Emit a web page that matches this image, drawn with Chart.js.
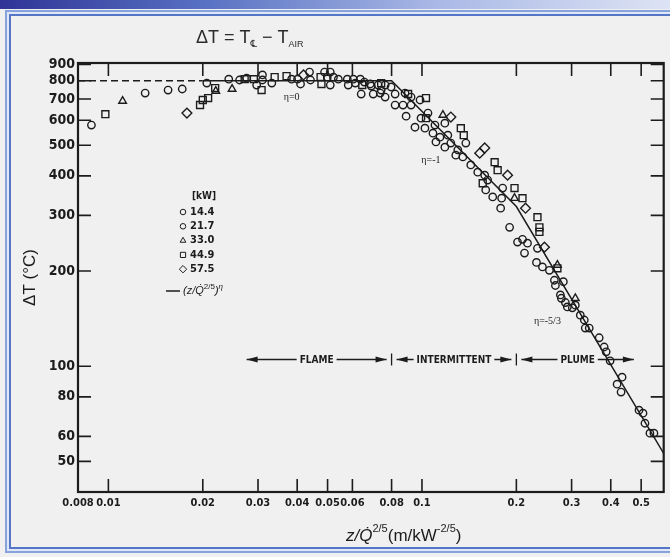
<!DOCTYPE html>
<html>
<head>
<meta charset="utf-8">
<script src="https://cdn.jsdelivr.net/npm/chart.js@4.4.1/dist/chart.umd.min.js"></script>
<style>
  html, body { margin: 0; padding: 0; background: #f0f0f0; }
  #wrap { position: relative; width: 670px; height: 557px; overflow: hidden; background: #f0f0f0; }
  .topbar { position: absolute; left: 0; top: 0; width: 670px; height: 9px;
    background: linear-gradient(to right, #2f3496 0%, #5770c2 30%, #a9b8e6 65%, #dde3f4 100%); }
  .frame { position: absolute; left: 5px; top: 10px; width: 690px; height: 539px;
    border: 2px solid #86a3de; box-shadow: inset 0 0 0 2px #dfe7f7, inset 0 0 0 4px #5576c6; }
  canvas { position: absolute; left: 0; top: 0; }
</style>
</head>
<body>
<div id="wrap">
  <div class="topbar"></div>
  <div class="frame"></div>
  <canvas id="plot" width="670" height="557"></canvas>
</div>
<script>
// ---------- data ----------
const xTickVals = [0.008, 0.01, 0.02, 0.03, 0.04, 0.05, 0.06, 0.08, 0.1, 0.2, 0.3, 0.4, 0.5];
const xTickText = ['0.008', '0.01', '0.02', '0.03', '0.04', '0.05', '0.06', '0.08', '0.1', '0.2', '0.3', '0.4', '0.5'];
const yTickVals = [50, 60, 80, 100, 200, 300, 400, 500, 600, 700, 800, 900];
const seriesNames = ['14.4', '21.7', '33.0', '44.9', '57.5'];

const q144 = [[0.00883,579],[0.0155,747],[0.0206,786],[0.0262,804],[0.0297,775],[0.0310,804],[0.0384,809],[0.0410,781],
  [0.0441,804],[0.0510,852],[0.0522,821],[0.0541,809],[0.0582,775],[0.0613,786],[0.0655,792],[0.0640,726],[0.0699,726],
  [0.0736,731],[0.0763,710],[0.0821,726],[0.0741,747],[0.0883,731],[0.0923,670],[0.0890,618],[0.1045,632],[0.1022,566],
  [0.1183,587],[0.1141,530],[0.1108,512],[0.1236,508],[0.1301,483],[0.1350,459],[0.1506,411],[0.1597,361],[0.1681,343],
  [0.1795,340],[0.1903,275],[0.2092,252],[0.2123,228],[0.2318,213],[0.2549,201],[0.2824,185],[0.2763,168],[0.2866,159],
  [0.3083,156],[0.3198,145],[0.3317,132],[0.3674,123],[0.3867,111],[0.4346,92.3],[0.4314,82.8],[0.5068,71.0],[0.5333,61.4]];
const q217 = [[0.0131,731],[0.0172,753],[0.0242,809],[0.0276,815],[0.0310,834],[0.0332,786],[0.0401,809],[0.0438,852],
  [0.0489,852],[0.0499,821],[0.0510,775],[0.0578,809],[0.0604,809],[0.0636,809],[0.0684,781],[0.0689,769],[0.0725,775],
  [0.0763,775],[0.0797,764],[0.0821,670],[0.0870,670],[0.0923,710],[0.0986,695],[0.0993,609],[0.0950,570],[0.1100,579],
  [0.1084,546],[0.1209,538],[0.1183,493],[0.1380,508],[0.1282,465],[0.1431,433],[0.1585,402],[0.1620,388],[0.1808,366],
  [0.1782,316],[0.2017,247],[0.2170,245],[0.2335,236],[0.2422,206],[0.2644,187],[0.2664,180],[0.2783,164],[0.2908,154],
  [0.3016,153],[0.3293,140],[0.3415,132],[0.3811,115],[0.3981,104],[0.4190,87.7],[0.4922,72.6],[0.5142,66.0],[0.5492,61.4]];
const q330 = [[0.0111,690],[0.0220,742],[0.0248,753],[0.1166,623],[0.1973,340],[0.2703,209],[0.3083,164]];
const q449 = [[0.00978,627],[0.0196,670],[0.0200,695],[0.0208,705],[0.0219,758],[0.0272,809],[0.0291,809],[0.0308,747],
  [0.0339,821],[0.0370,827],[0.0475,821],[0.0478,781],[0.0645,775],[0.0741,786],[0.0903,726],[0.1030,705],[0.1030,609],
  [0.1330,566],[0.1359,538],[0.1705,442],[0.1743,417],[0.1562,379],[0.1973,366],[0.2092,340],[0.2335,296],[0.2369,275],
  [0.2369,266],[0.2703,204]];
const q575 = [[0.0178,632],[0.0419,834],[0.1236,614],[0.1528,472],[0.1585,490],[0.1875,402],[0.2139,316],[0.2458,238]];

// correlation (z/Q^2/5)^eta : breakpoints
const curveX = [0.02, 0.08, 0.2, 0.59];
const curveY = [800, 800, 320, 53];
const dashX = [0.008, 0.02];
const dashY = [800, 800];

// regime arrows
const regimeNames = ['FLAME', 'INTERMITTENT', 'PLUME'];
const regimeEdges = [0.0276, 0.08, 0.2, 0.474];
const regimeLevel = 105;

const etaText = ['η=0', 'η=-1', 'η=-5/3'];
const etaX = [0.0384, 0.1068, 0.2512];
const etaY = [710, 449, 139];

// ---------- styling ----------
const INK = '#1c1c1c';
const NARROW = '"Liberation Sans Narrow", "DejaVu Sans Condensed", "Arial Narrow", "Liberation Sans", sans-serif';
const SANS = '"Liberation Sans", "DejaVu Sans", sans-serif';
const TICK = 13;

const toPts = arr => arr.map(p => ({ x: p[0], y: p[1] }));
const zip = (xs, ys) => xs.map((x, i) => ({ x, y: ys[i] }));
const shapes = [
  { style: 'circle', r: 3.7 },
  { style: 'circle', r: 3.7 },
  { style: 'triangle', r: 4.4 },
  { style: 'rect', r: 4.9 },
  { style: 'rectRot', r: 4.9 }
];
const marker = (i, data) => ({
  type: 'scatter',
  label: seriesNames[i],
  data: toPts(data),
  pointStyle: shapes[i].style,
  pointRadius: shapes[i].r,
  pointBorderWidth: 1.4,
  pointBorderColor: INK,
  pointBackgroundColor: 'rgba(0,0,0,0)',
  borderColor: INK,
  backgroundColor: 'rgba(0,0,0,0)'
});

// ---------- plugins ----------
const axesBox = {
  id: 'axesBox',
  afterDatasetsDraw(chart) {
    const { ctx, chartArea: a, scales: { x, y } } = chart;
    ctx.save();
    ctx.strokeStyle = INK;
    ctx.lineWidth = 1.6;
    ctx.beginPath();
    xTickVals.forEach(v => {
      if (v <= x.min) return;
      const px = x.getPixelForValue(v);
      ctx.moveTo(px, a.top); ctx.lineTo(px, a.top + TICK);
      ctx.moveTo(px, a.bottom); ctx.lineTo(px, a.bottom - TICK);
    });
    yTickVals.forEach(v => {
      const py = y.getPixelForValue(v);
      ctx.moveTo(a.left, py); ctx.lineTo(a.left + TICK, py);
      ctx.moveTo(a.right, py); ctx.lineTo(a.right - TICK, py);
    });
    ctx.stroke();
    ctx.lineWidth = 2.2;
    ctx.strokeRect(a.left, a.top, a.right - a.left, a.bottom - a.top);
    ctx.restore();
  }
};

function arrowHead(ctx, x, y, dir) {
  ctx.beginPath();
  ctx.moveTo(x, y);
  ctx.lineTo(x - dir * 11, y - 3);
  ctx.lineTo(x - dir * 11, y + 3);
  ctx.closePath();
  ctx.fill();
}

const annotations = {
  id: 'annotations',
  afterDatasetsDraw(chart) {
    const { ctx, scales: { x, y } } = chart;
    ctx.save();
    ctx.fillStyle = INK;
    ctx.strokeStyle = INK;
    // eta labels
    ctx.font = '10px "Liberation Serif", "DejaVu Serif", serif';
    ctx.textAlign = 'center';
    ctx.textBaseline = 'middle';
    etaText.forEach((t, i) => ctx.fillText(t, x.getPixelForValue(etaX[i]), y.getPixelForValue(etaY[i])));

    // regime arrows
    const py = y.getPixelForValue(regimeLevel);
    ctx.font = 'bold 10px ' + NARROW;
    ctx.lineWidth = 1.3;
    regimeNames.forEach((name, i) => {
      const x0 = x.getPixelForValue(regimeEdges[i]) + (i === 0 ? 0 : 5);
      const x1 = x.getPixelForValue(regimeEdges[i + 1]) - (i === regimeNames.length - 1 ? 0 : 5);
      const xm = (x0 + x1) / 2;
      const tw = ctx.measureText(name).width;
      ctx.beginPath();
      ctx.moveTo(x0, py); ctx.lineTo(xm - tw / 2 - 3, py);
      ctx.moveTo(xm + tw / 2 + 3, py); ctx.lineTo(x1, py);
      ctx.stroke();
      arrowHead(ctx, x0, py, -1);
      arrowHead(ctx, x1, py, 1);
      ctx.fillText(name, xm, py + 0.5);
    });
    ctx.beginPath();
    [regimeEdges[1], regimeEdges[2]].forEach(v => {
      const px = x.getPixelForValue(v);
      ctx.moveTo(px, py - 6); ctx.lineTo(px, py + 6);
    });
    ctx.stroke();
    ctx.restore();
  }
};

const keyBox = {
  id: 'keyBox',
  afterDatasetsDraw(chart) {
    const { ctx, chartArea: a } = chart;
    const mx = a.left + 105, tx = a.left + 112;
    ctx.save();
    ctx.strokeStyle = INK;
    ctx.textBaseline = 'middle';
    ctx.fillStyle = INK;
    ctx.font = 'bold 10px ' + NARROW;
    ctx.textAlign = 'center';
    ctx.fillText('[kW]', a.left + 126, a.top + 133);
    ctx.textAlign = 'left';
    seriesNames.forEach((name, i) => {
      const yy = a.top + 149 + i * 14.3;
      ctx.fillStyle = 'rgba(0,0,0,0)';
      Chart.helpers.drawPoint(ctx, {
        pointStyle: shapes[i].style, radius: shapes[i].r * 0.75, borderWidth: 1.3, rotation: 0
      }, mx, yy);
      ctx.fillStyle = INK;
      ctx.font = 'bold 11px ' + NARROW;
      ctx.fillText(name, tx, yy);
    });
    const ly = a.top + 228;
    ctx.lineWidth = 1.5;
    ctx.beginPath();
    ctx.moveTo(a.left + 88, ly); ctx.lineTo(a.left + 102, ly);
    ctx.stroke();
    let cx = a.left + 105;
    const put = (t, font, dy) => { ctx.font = font; ctx.fillText(t, cx, ly + dy); cx += ctx.measureText(t).width; };
    put('(z/Q\u0307', 'italic 11px ' + SANS, 0);
    put('2/5', '8px ' + SANS, -4);
    put(')', 'italic 11px ' + SANS, 0);
    put('η', 'italic 8px ' + SANS, -4);
    ctx.restore();
  }
};

const labels = {
  id: 'labels',
  afterDraw(chart) {
    const { ctx } = chart;
    ctx.save();
    ctx.fillStyle = '#2a2a2a';
    ctx.textBaseline = 'alphabetic';
    ctx.textAlign = 'left';
    // heading: ΔT = T℄ − T_AIR
    let cx = 196;
    const put = (t, font, y) => { ctx.font = font; ctx.fillText(t, cx, y); cx += ctx.measureText(t).width; };
    put('ΔT = T', '18px ' + SANS, 43);
    put('\u2104', '10px "DejaVu Sans", sans-serif', 47);
    put(' − T', '18px ' + SANS, 43);
    put('AIR', '9px ' + SANS, 47);
    // x axis title
    ctx.fillStyle = INK;
    cx = 346;
    put('z/Q\u0307', 'italic 17px ' + SANS, 541);
    put('2/5', '11px ' + SANS, 532);
    put('(m/kW', '17px ' + SANS, 541);
    put('-2/5', '11px ' + SANS, 532);
    put(')', '17px ' + SANS, 541);
    ctx.restore();
  }
};

// ---------- chart ----------
new Chart(document.getElementById('plot'), {
  data: {
    datasets: [
      marker(0, q144),
      marker(1, q217),
      marker(2, q330),
      marker(3, q449),
      marker(4, q575),
      { type: 'line', label: 'curve', data: zip(curveX, curveY), borderColor: INK, borderWidth: 1.5,
        pointRadius: 0, fill: false, tension: 0 },
      { type: 'line', label: 'flame level', data: zip(dashX, dashY), borderColor: INK, borderWidth: 1.5,
        borderDash: [7, 4], pointRadius: 0, fill: false, tension: 0 }
    ]
  },
  options: {
    responsive: false,
    animation: false,
    devicePixelRatio: 1,
    layout: { padding: { left: 14, top: 63, right: 3, bottom: 0 } },
    plugins: { legend: { display: false }, tooltip: { enabled: false }, title: { display: false } },
    scales: {
      x: {
        type: 'logarithmic', position: 'bottom', min: 0.008, max: 0.59,
        afterBuildTicks: s => { s.ticks = xTickVals.map(v => ({ value: v })); },
        afterFit: s => { s.height = 65; },
        grid: { display: false, drawTicks: false },
        border: { display: false },
        ticks: {
          autoSkip: false, maxRotation: 0, padding: 5, color: INK,
          font: { family: NARROW, size: 11, weight: 'bold' },
          callback: (v, i) => xTickText[i]
        }
      },
      y: {
        type: 'logarithmic', position: 'left', min: 40, max: 910,
        afterBuildTicks: s => { s.ticks = yTickVals.map(v => ({ value: v })); },
        afterFit: s => { s.width = 64; },
        grid: { display: false, drawTicks: false },
        border: { display: false },
        ticks: {
          autoSkip: false, padding: 3, color: INK,
          font: { family: NARROW, size: 14, weight: 'bold' },
          callback: v => String(v)
        },
        title: {
          display: true, text: 'ΔT (°C)', color: INK,
          font: { family: SANS, size: 17 }, padding: { top: 6, bottom: 0 }
        }
      }
    }
  },
  plugins: [axesBox, annotations, keyBox, labels]
});
</script>
</body>
</html>
